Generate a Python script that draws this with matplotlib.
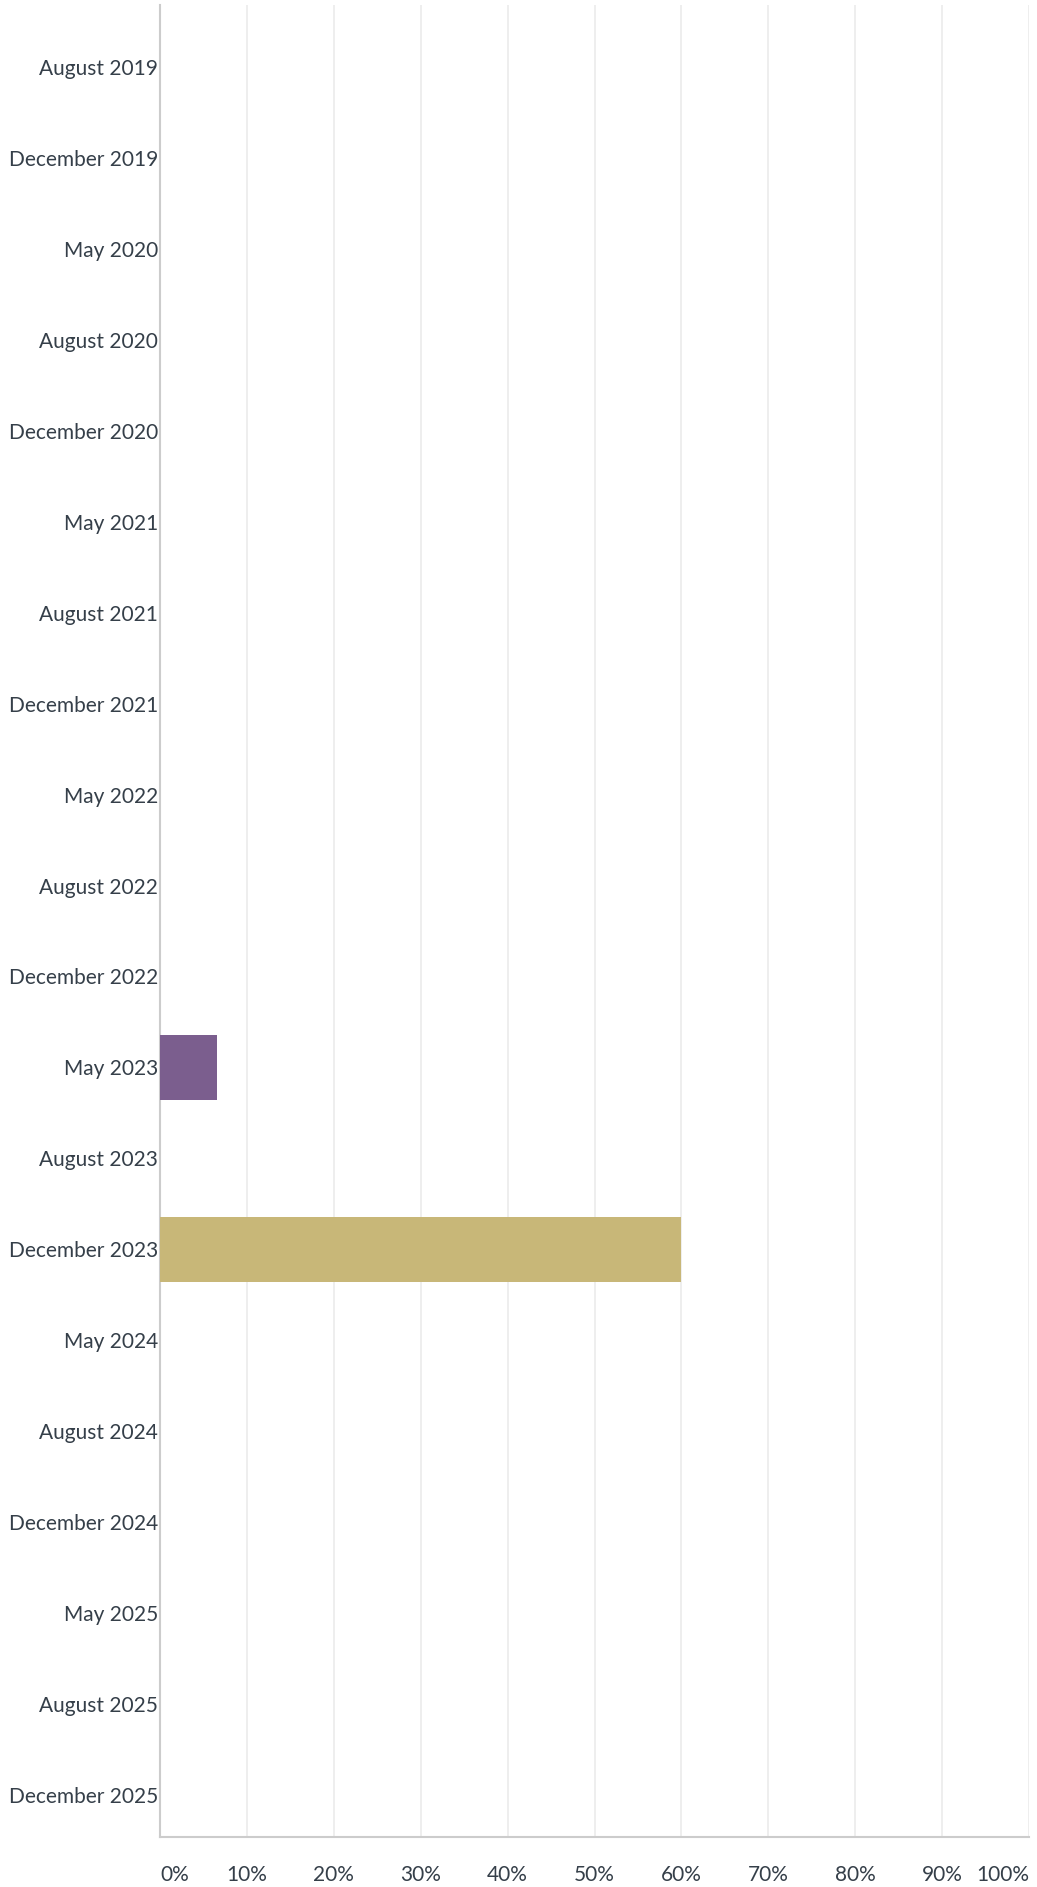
import matplotlib
matplotlib.use('Agg')
from matplotlib import pyplot as plt
import numpy as np

plt.rcParams['font.family'] = ['Lato', 'DejaVu Sans']

periods = ['August 2019', 'December 2019', 'May 2020', 'August 2020', 'December 2020',
           'May 2021', 'August 2021', 'December 2021', 'May 2022', 'August 2022',
           'December 2022', 'May 2023', 'August 2023', 'December 2023', 'May 2024',
           'August 2024', 'December 2024', 'May 2025', 'August 2025', 'December 2025']
values = [0, 0, 0, 0, 0, 0, 0, 0, 0, 0, 0, 6.6, 0, 60, 0, 0, 0, 0, 0, 0]
bar_colors = ['#7b5e8e'] * 13 + ['#c8b778'] + ['#7b5e8e'] * 6
x_ticks = [0, 10, 20, 30, 40, 50, 60, 70, 80, 90, 100]
x_labels = [f'{t}%' for t in x_ticks]

text_color = '#353f49'

fig = plt.figure(figsize=(10.37, 18.87), dpi=100, facecolor='white')
ax = fig.add_axes([160 / 1037, 1 - 1837 / 1887, 869 / 1037, 1832 / 1887])

y = np.arange(len(periods))
ax.barh(y, values, height=0.72, color=bar_colors, zorder=3)

ax.set_xlim(0, 100)
ax.set_ylim(len(periods) - 0.54, -0.68)
ax.set_yticks(y)
ax.set_yticklabels(periods, fontsize=15, color=text_color)
ax.set_xticks(x_ticks)
ax.set_xticklabels(x_labels, fontsize=15, color=text_color)
labels = ax.get_xticklabels()
labels[0].set_horizontalalignment('left')
labels[-1].set_horizontalalignment('right')

ax.tick_params(axis='y', length=0, pad=1.5)
ax.tick_params(axis='x', length=0, pad=20)
ax.grid(axis='x', color='#ebebeb', linewidth=1.2, zorder=0)

for side in ['top', 'right']:
    ax.spines[side].set_visible(False)
for side in ['left', 'bottom']:
    ax.spines[side].set_color('#cccccc')
    ax.spines[side].set_linewidth(1.5)

plt.savefig('out.png', dpi=100, facecolor='white')
